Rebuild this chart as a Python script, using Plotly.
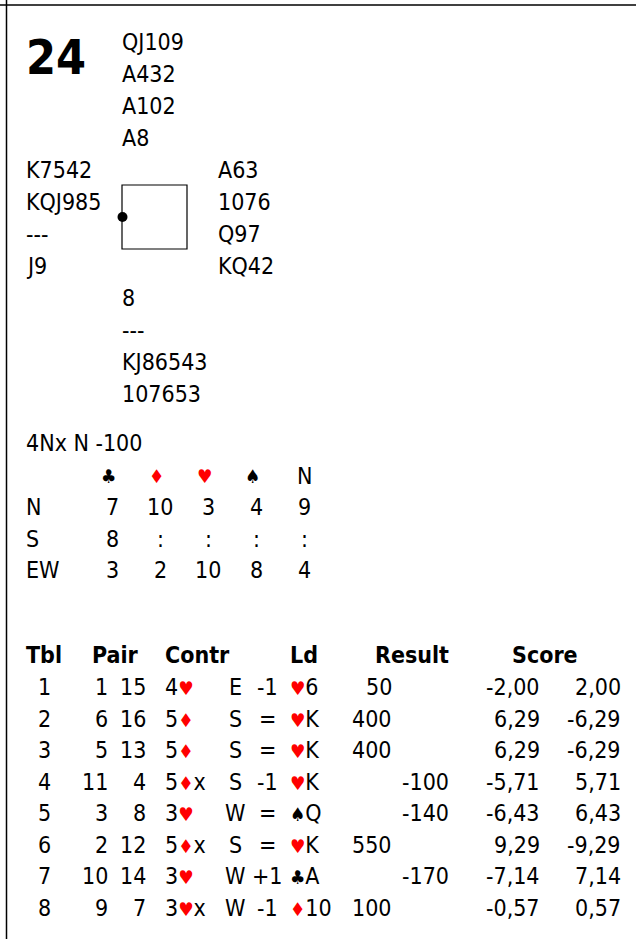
import plotly.graph_objects as go

# ---------------- data ----------------
board_no = "24"
north = ["QJ109", "A432", "A102", "A8"]
west = ["K7542", "KQJ985", "---", "J9"]
east = ["A63", "1076", "Q97", "KQ42"]
south = ["8", "---", "KJ86543", "107653"]
par_line = "4Nx N -100"

dd_strains = ["♣", "♦", "♥", "♠", "N"]
dd_players = ["N", "S", "EW"]
dd_N = ["7", "10", "3", "4", "9"]
dd_S = ["8", ":", ":", ":", ":"]
dd_EW = ["3", "2", "10", "8", "4"]

headers = ["Tbl", "Pair", "Contr", "Ld", "Result", "Score"]
tbl = ["1", "2", "3", "4", "5", "6", "7", "8"]
pair_ns = ["1", "6", "5", "11", "3", "2", "10", "9"]
pair_ew = ["15", "16", "13", "4", "8", "12", "14", "7"]
contract = ["4♥", "5♦", "5♦", "5♦x", "3♥", "5♦x", "3♥", "3♥x"]
declarer = ["E", "S", "S", "S", "W", "S", "W", "W"]
result = ["-1", "=", "=", "-1", "=", "=", "+1", "-1"]
lead = ["♥6", "♥K", "♥K", "♥K", "♠Q", "♥K", "♣A", "♦10"]
score_ns = ["50", "400", "400", "", "", "550", "", "100"]
score_ew = ["", "", "", "-100", "-140", "", "-170", ""]
mp_ns = ["-2,00", "6,29", "6,29", "-5,71", "-6,43", "9,29", "-7,14", "-0,57"]
mp_ew = ["2,00", "-6,29", "-6,29", "5,71", "6,43", "-9,29", "7,14", "0,57"]

# ---------------- style ----------------
W, H = 636, 939
FONT = "DejaVu Sans Condensed, DejaVu Sans, sans-serif"
FS = 23
SUIT_FS = 19
RED = "#ff0000"


def suits(s):
    out = ""
    for ch in s:
        if ch in "♥♦":
            out += f'<span style="color:{RED};font-size:{SUIT_FS}px">{ch}</span>'
        elif ch in "♣♠":
            out += f'<span style="font-size:{SUIT_FS}px">{ch}</span>'
        else:
            out += ch
    return out


anns = []


def txt(x, y, s, anchor="left", size=FS, bold=False):
    anns.append(dict(
        x=x, y=y, xref="x", yref="y", text=suits(s), showarrow=False,
        xanchor=anchor, yanchor="middle", borderpad=0, borderwidth=0,
        font=dict(family=FONT, size=size, color="black",
                  weight="bold" if bold else "normal"),
    ))


# board number
txt(26, 57, board_no, size=48, bold=True)

# hands
LH = 32
y0 = 41.5
for i, s in enumerate(north):
    txt(122, y0 + LH * i, s)
for i, s in enumerate(west):
    txt(26, y0 + LH * (4 + i), s)
for i, s in enumerate(east):
    txt(218, y0 + LH * (4 + i), s)
for i, s in enumerate(south):
    txt(122, y0 + LH * (8 + i), s)

# par line
txt(26, 443, par_line)

# double-dummy table
col_x = [112, 160, 208, 256, 304]
for j, s in enumerate(dd_strains):
    txt(col_x[j] - (4 if s != "N" else 0), 476, s, anchor="center")
for r, (lab, vals) in enumerate(zip(dd_players, [dd_N, dd_S, dd_EW])):
    yy = 507 + 31.7 * r
    txt(26, yy, lab)
    for j, v in enumerate(vals):
        txt(col_x[j], yy, v, anchor="center")

# results table
hy = 655
txt(26, hy, headers[0], bold=True)
txt(115, hy, headers[1], anchor="center", bold=True)
txt(165, hy, headers[2], bold=True)
txt(290, hy, headers[3], bold=True)
txt(449, hy, headers[4], anchor="right", bold=True)
txt(545, hy, headers[5], anchor="center", bold=True)

for i in range(len(tbl)):
    yy = 687 + 31.55 * i
    txt(44, yy, tbl[i], anchor="center")
    txt(108, yy, pair_ns[i], anchor="right")
    txt(146, yy, pair_ew[i], anchor="right")
    txt(165, yy, contract[i])
    txt(235, yy, declarer[i], anchor="center")
    txt(267, yy, result[i], anchor="center")
    txt(290, yy, lead[i])
    if score_ns[i]:
        txt(392, yy, score_ns[i], anchor="right")
    if score_ew[i]:
        txt(449, yy, score_ew[i], anchor="right")
    txt(540, yy, mp_ns[i], anchor="right")
    txt(621, yy, mp_ew[i], anchor="right")

shapes = [
    dict(type="line", x0=0, x1=W, y0=5, y1=5, xref="x", yref="y",
         line=dict(color="black", width=1.5)),
    dict(type="line", x0=6.5, x1=6.5, y0=0, y1=H, xref="x", yref="y",
         line=dict(color="black", width=1.5)),
    dict(type="rect", x0=122, x1=187, y0=185, y1=249, xref="x", yref="y",
         line=dict(color="black", width=1.2)),
    dict(type="circle", x0=117.5, x1=127.5, y0=212, y1=222, xref="x", yref="y",
         fillcolor="black", line=dict(color="black", width=0)),
]

fig = go.Figure()
fig.update_layout(
    width=W, height=H,
    margin=dict(l=0, r=0, t=0, b=0),
    paper_bgcolor="white", plot_bgcolor="white",
    xaxis=dict(range=[0, W], visible=False, fixedrange=True),
    yaxis=dict(range=[H, 0], visible=False, fixedrange=True),
    annotations=anns, shapes=shapes, showlegend=False,
)
fig.write_html(
    "out.html",
    config={"displayModeBar": False},
    post_script="document.body.style.margin='0';document.body.style.overflow='hidden';",
)
